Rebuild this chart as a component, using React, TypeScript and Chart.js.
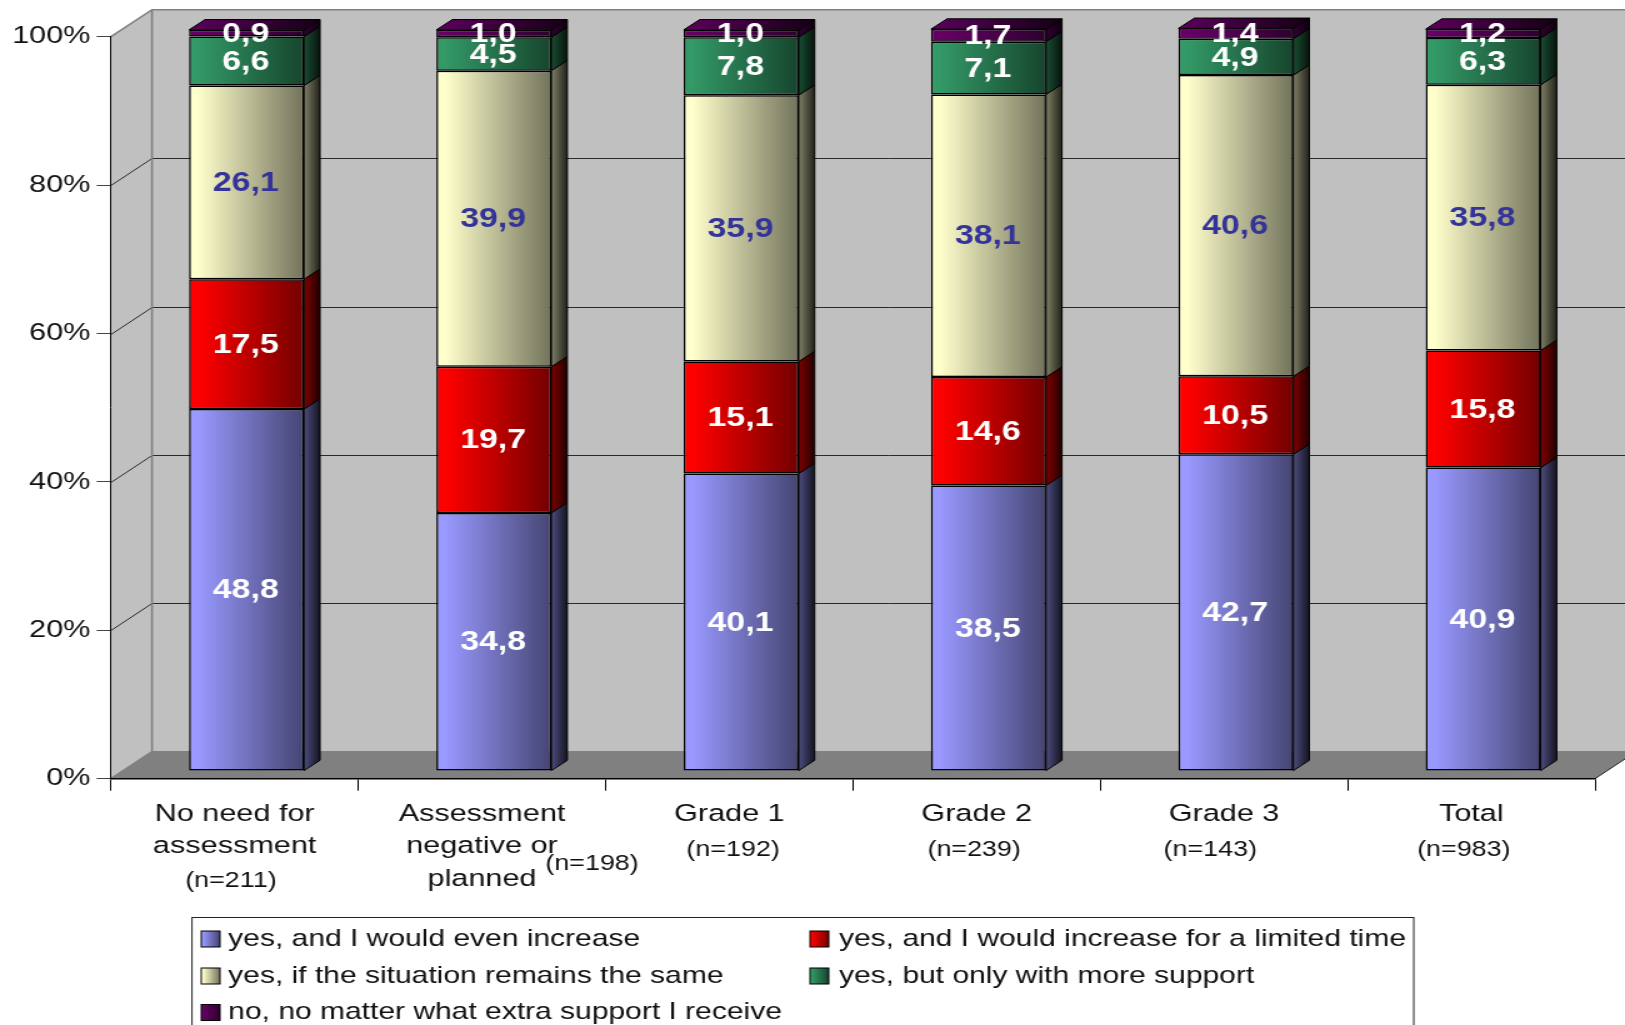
import React, { useEffect, useRef } from "react";
import { Chart, registerables } from "chart.js";

Chart.register(...registerables);

const categories = [
  ["No need for", "assessment"],
  ["Assessment", "negative or", "planned"],
  ["Grade 1"],
  ["Grade 2"],
  ["Grade 3"],
  ["Total"],
];
const sampleSizes = ["(n=211)", "(n=198)", "(n=192)", "(n=239)", "(n=143)", "(n=983)"];

const evenIncrease = [48.8, 34.8, 40.1, 38.5, 42.7, 40.9];
const limitedIncrease = [17.5, 19.7, 15.1, 14.6, 10.5, 15.8];
const sameSituation = [26.1, 39.9, 35.9, 38.1, 40.6, 35.8];
const moreSupport = [6.6, 4.5, 7.8, 7.1, 4.9, 6.3];
const noMatterWhat = [0.9, 1.0, 1.0, 1.7, 1.4, 1.2];

const seriesLabels = [
  "yes, and I would even increase",
  "yes, and I would increase for a limited time",
  "yes, if the situation remains the same",
  "yes, but only with more support",
  "no, no matter what extra support I receive",
];
const seriesValues = [evenIncrease, limitedIncrease, sameSituation, moreSupport, noMatterWhat];
const seriesColors = [
  [153, 153, 255],
  [255, 0, 0],
  [255, 255, 204],
  [51, 153, 102],
  [102, 0, 102],
];
const labelColors = ["#ffffff", "#ffffff", "#333399", "#ffffff", "#ffffff"];

// The drawing is laid out on a narrower canvas and widened by this factor.
const WIDEN = 1.25;
const CANVAS_W = 1300;
const CANVAS_H = 1025;
const FONT = '"Liberation Sans", Arial, sans-serif';

// Oblique projection of the box: wall depth, bar plane offset, bar depth.
const WALL_DX = 32.8;
const WALL_DY = 27;
const PLANE_DX = 9.5;
const PLANE_DY = 7.6;
const BAR_DX = 12.8;
const BAR_DY = 10.3;

// Placement of the sample-size captions relative to each category centre.
const captionShiftX = [-3, 88, 3, -2, -11, -6];
const captionY = [881, 864, 850, 850, 850, 850];

const shade = (rgb: number[], f: number) =>
  `rgb(${rgb.map((c) => Math.round(c * f)).join(",")})`;

function frontGradient(ctx: CanvasRenderingContext2D, x0: number, x1: number, rgb: number[]) {
  const g = ctx.createLinearGradient(x0, 0, x1, 0);
  g.addColorStop(0, shade(rgb, 1));
  g.addColorStop(0.08, shade(rgb, 1));
  g.addColorStop(1, shade(rgb, 0.45));
  return g;
}

const boxPlugin = {
  id: "box",
  beforeDraw(chart: any) {
    const { ctx, chartArea: a, scales } = chart;
    const y = scales.y;
    ctx.save();
    // left wall
    ctx.fillStyle = "#c0c0c0";
    ctx.beginPath();
    ctx.moveTo(a.left, a.top);
    ctx.lineTo(a.left + WALL_DX, a.top - WALL_DY);
    ctx.lineTo(a.left + WALL_DX, a.bottom - WALL_DY);
    ctx.lineTo(a.left, a.bottom);
    ctx.closePath();
    ctx.fill();
    // back wall
    ctx.fillRect(a.left + WALL_DX, a.top - WALL_DY, a.width + WALL_DX, a.height);
    // floor
    ctx.fillStyle = "#808080";
    ctx.beginPath();
    ctx.moveTo(a.left, a.bottom);
    ctx.lineTo(a.left + WALL_DX, a.bottom - WALL_DY);
    ctx.lineTo(a.right + WALL_DX, a.bottom - WALL_DY);
    ctx.lineTo(a.right, a.bottom);
    ctx.closePath();
    ctx.fill();
    // gridlines running over both walls
    ctx.strokeStyle = "#2a2a2a";
    ctx.lineWidth = 1;
    for (const v of [20, 40, 60, 80]) {
      const py = Math.round(y.getPixelForValue(v)) + 0.5;
      ctx.beginPath();
      ctx.moveTo(a.left, py);
      ctx.lineTo(a.left + WALL_DX, py - WALL_DY);
      ctx.lineTo(a.right + WALL_DX, py - WALL_DY);
      ctx.stroke();
    }
    // grey outline of the box
    ctx.strokeStyle = "#808080";
    ctx.lineWidth = 1.6;
    ctx.beginPath();
    ctx.moveTo(a.left, a.top);
    ctx.lineTo(a.left + WALL_DX, a.top - WALL_DY);
    ctx.lineTo(a.right + WALL_DX, a.top - WALL_DY);
    ctx.moveTo(a.left + WALL_DX, a.top - WALL_DY);
    ctx.lineTo(a.left + WALL_DX, a.bottom - WALL_DY);
    ctx.lineTo(a.left, a.bottom);
    ctx.moveTo(a.left + WALL_DX, a.bottom - WALL_DY);
    ctx.lineTo(a.right + WALL_DX, a.bottom - WALL_DY);
    ctx.stroke();
    ctx.strokeStyle = "#222222";
    ctx.lineWidth = 1;
    ctx.beginPath();
    ctx.moveTo(a.right, a.bottom);
    ctx.lineTo(a.right + WALL_DX, a.bottom - WALL_DY);
    ctx.stroke();
    ctx.restore();
  },
  beforeDatasetsDraw(chart: any) {
    const { ctx } = chart;
    ctx.save();
    ctx.translate(PLANE_DX, -PLANE_DY);
    // side and top faces of every stacked segment
    chart.data.datasets.forEach((ds: any, di: number) => {
      const rgb = seriesColors[di];
      chart.getDatasetMeta(di).data.forEach((bar: any) => {
        const { x, y, base, width } = bar.getProps(["x", "y", "base", "width"], true);
        const right = x + width / 2;
        const side = ctx.createLinearGradient(right, 0, right + BAR_DX, 0);
        side.addColorStop(0, shade(rgb, 0.5));
        side.addColorStop(1, shade(rgb, 0.13));
        ctx.fillStyle = side;
        ctx.strokeStyle = "#000000";
        ctx.lineWidth = 1;
        ctx.beginPath();
        ctx.moveTo(right, y);
        ctx.lineTo(right + BAR_DX, y - BAR_DY);
        ctx.lineTo(right + BAR_DX, base - BAR_DY);
        ctx.lineTo(right, base);
        ctx.closePath();
        ctx.fill();
        ctx.stroke();
        if (di === chart.data.datasets.length - 1) {
          const top = ctx.createLinearGradient(x - width / 2, 0, right + BAR_DX, 0);
          top.addColorStop(0, shade(rgb, 0.9));
          top.addColorStop(1, shade(rgb, 0.2));
          ctx.fillStyle = top;
          ctx.beginPath();
          ctx.moveTo(x - width / 2, y);
          ctx.lineTo(x - width / 2 + BAR_DX, y - BAR_DY);
          ctx.lineTo(right + BAR_DX, y - BAR_DY);
          ctx.lineTo(right, y);
          ctx.closePath();
          ctx.fill();
          ctx.stroke();
        }
      });
    });
  },
  afterDatasetsDraw(chart: any) {
    const { ctx } = chart;
    // value captions, still in the bar plane; a little taller than they are wide
    ctx.font = `bold 28.5px ${FONT}`;
    ctx.textAlign = "center";
    ctx.textBaseline = "middle";
    chart.data.datasets.forEach((ds: any, di: number) => {
      ctx.fillStyle = labelColors[di];
      chart.getDatasetMeta(di).data.forEach((bar: any, i: number) => {
        const { x, y, base } = bar.getProps(["x", "y", "base"], true);
        const text = ds.data[i].toFixed(1).replace(".", ",");
        ctx.save();
        ctx.translate(x - 0.6, (y + base) / 2 + 0.8);
        ctx.scale(0.95, 1);
        ctx.fillText(text, 0, 0);
        ctx.restore();
      });
    });
    ctx.restore();
  },
  afterDraw(chart: any) {
    const { ctx, scales } = chart;
    ctx.save();
    ctx.fillStyle = "#111111";
    ctx.textAlign = "center";
    ctx.textBaseline = "middle";
    ctx.font = `21.5px ${FONT}`;
    sampleSizes.forEach((s, i) => {
      ctx.fillText(s, scales.x.getPixelForValue(i) + captionShiftX[i], captionY[i]);
    });

    // legend frame, running past the lower edge of the page
    const L = { left: 153.6, top: 917.5, right: 1131, bottom: 1060 };
    ctx.fillStyle = "#ffffff";
    ctx.strokeStyle = "#222222";
    ctx.lineWidth = 1;
    ctx.fillRect(L.left, L.top, L.right - L.left, L.bottom - L.top);
    ctx.strokeRect(L.left, L.top, L.right - L.left, L.bottom - L.top);
    const rows = [939, 976, 1012.5];
    const columns = [161, 648];
    const textGap = [21.6, 23.2];
    ctx.font = `24px ${FONT}`;
    ctx.textAlign = "left";
    chart.data.datasets.forEach((ds: any, di: number) => {
      const cx = columns[di % 2];
      const cy = rows[Math.floor(di / 2)];
      ctx.fillStyle = frontGradient(ctx, cx, cx + 15, seriesColors[di]);
      ctx.fillRect(cx, cy - 8, 15, 16);
      ctx.strokeStyle = "#000000";
      ctx.strokeRect(cx, cy - 8, 15, 16);
      ctx.fillStyle = "#111111";
      ctx.fillText(ds.label, cx + textGap[di % 2], cy);
    });
    ctx.restore();
  },
};

export default function App() {
  const ref = useRef<HTMLCanvasElement | null>(null);
  useEffect(() => {
    const canvas = ref.current;
    if (!canvas) return;
    const chart = new Chart(canvas, {
      type: "bar",
      data: {
        labels: categories,
        datasets: seriesValues.map((data, di) => ({
          label: seriesLabels[di],
          data,
          borderColor: "#000000",
          borderWidth: 1.5,
          borderSkipped: false,
          clip: false,
          barPercentage: 0.465,
          categoryPercentage: 1,
          backgroundColor: (c: any) => {
            const sx = c.chart.scales?.x;
            const solid = shade(seriesColors[di], 1);
            if (!sx || c.dataIndex === undefined) return solid;
            const mid = sx.getPixelForValue(c.dataIndex);
            const half = (sx.width / categories.length) * 0.2325;
            if (!Number.isFinite(mid) || !Number.isFinite(half) || half <= 0) return solid;
            return frontGradient(c.chart.ctx, mid - half, mid + half, seriesColors[di]);
          },
        })),
      },
      options: {
        responsive: false,
        animation: false,
        devicePixelRatio: 1,
        layout: { padding: { left: 0, top: 36.7, right: CANVAS_W - 1276, bottom: 0 } },
        plugins: { legend: { display: false }, tooltip: { enabled: false } },
        scales: {
          x: {
            stacked: true,
            offset: true,
            grid: { offset: true, drawOnChartArea: false, tickColor: "#000000", tickLength: 12 },
            border: { color: "#000000", width: 1.5 },
            ticks: {
              color: "#111111",
              maxRotation: 0,
              minRotation: 0,
              autoSkip: false,
              padding: 7,
              font: { family: FONT, size: 24.5, lineHeight: 1.33 },
            },
            afterFit: (s: any) => {
              s.height = CANVAS_H - 778.7;
            },
          },
          y: {
            stacked: true,
            min: 0,
            max: 100,
            grid: { drawOnChartArea: false, tickColor: "#444444", tickLength: 11.5 },
            border: { color: "#000000", width: 1 },
            ticks: {
              stepSize: 20,
              color: "#111111",
              padding: 5,
              font: { family: FONT, size: 24.5 },
              callback: (v: any) => `${v}%`,
            },
            afterFit: (s: any) => {
              s.width = 88.8;
            },
          },
        },
      },
      plugins: [boxPlugin],
    } as any);
    return () => chart.destroy();
  }, []);
  return (
    <div style={{ position: "fixed", left: 0, top: 0, width: 1625, height: 1025, overflow: "hidden", background: "#ffffff" }}>
      <canvas
        ref={ref}
        width={CANVAS_W}
        height={CANVAS_H}
        style={{ display: "block", transform: `scaleX(${WIDEN})`, transformOrigin: "0 0" }}
      />
    </div>
  );
}
